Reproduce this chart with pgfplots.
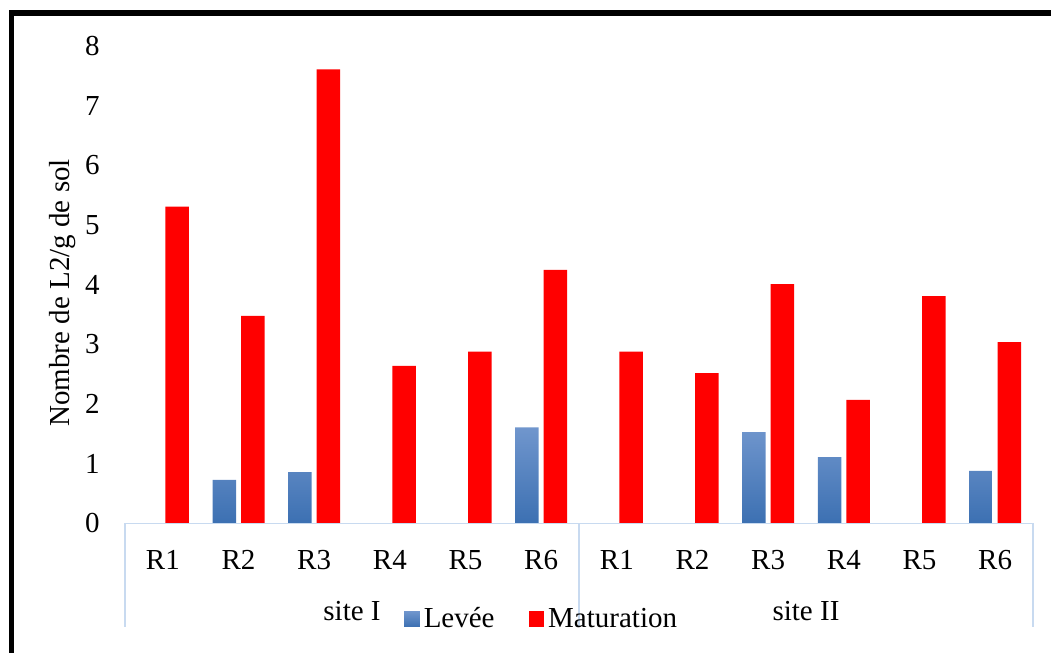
\documentclass[border=0pt]{standalone}
\usepackage{fontspec}
\setmainfont{Liberation Serif}
\usepackage{pgfplots}
\pgfplotsset{compat=1.18}
\definecolor{bluetop}{RGB}{112,150,205}
\definecolor{bluebot}{RGB}{60,112,178}
\definecolor{frameblue}{RGB}{200,218,240}
\definecolor{xred}{RGB}{255,0,0}
\begin{document}
\begin{tikzpicture}[font=\fontsize{14.5pt}{17pt}\selectfont]
\path[use as bounding box] (0,0) rectangle (525.5pt,326.5pt);
\fill[black] (4.5pt,318.6pt) rectangle (525.5pt,321.5pt);
\fill[black] (4.5pt,0pt) rectangle (7pt,321.5pt);
\begin{axis}[
  at={(62.5pt,64.75pt)}, anchor=south west,
  scale only axis, width=454pt, height=238.75pt,
  xmin=-0.5, xmax=11.5, ymin=0, ymax=8,
  ytick={0,1,...,8},
  xtick={0,...,11},
  xticklabels={R1,R2,R3,R4,R5,R6,R1,R2,R3,R4,R5,R6},
  axis line style={draw=none},
  xtick style={draw=none}, ytick style={draw=none},
  /pgf/number format/assume math mode=true,
  yticklabel style={anchor=east, inner sep=0pt, xshift=-12.5pt},
  xticklabel style={anchor=center, inner sep=0pt, yshift=-14pt},
  ylabel={Nombre de L2/g de sol},
  every axis y label/.style={at={(rel axis cs:0,0.483)}, rotate=90, anchor=center, yshift=31pt},
  ybar=2.5pt, bar width=11.75pt,
  clip=false,
  legend columns=2,
  legend style={at={(0.307,-0.2)}, anchor=west, draw=none, fill=none, inner sep=0pt,
    /tikz/every even column/.append style={column sep=15pt}},
  legend image code/.code={\path[#1] (0pt,-3.9pt) rectangle (7.8pt,3.9pt);},
]
\addplot[draw=none, top color=bluetop, bottom color=bluebot, shading=axis] coordinates {
 (0,0) (1,0.73) (2,0.86) (3,0) (4,0) (5,1.61)
 (6,0) (7,0) (8,1.53) (9,1.11) (10,0) (11,0.88)};
\addplot[draw=none, fill=xred] coordinates {
 (0,5.31) (1,3.48) (2,7.61) (3,2.64) (4,2.88) (5,4.25)
 (6,2.88) (7,2.52) (8,4.01) (9,2.07) (10,3.81) (11,3.04)};
\legend{Levée,Maturation}
\draw[frameblue, line width=0.8pt] (axis cs:-0.5,0) -- (axis cs:11.5,0);
\draw[frameblue, line width=0.8pt] (axis cs:-0.5,0) -- ([yshift=-52pt]axis cs:-0.5,0);
\draw[frameblue, line width=0.8pt] (axis cs:5.5,0) -- ([yshift=-52pt]axis cs:5.5,0);
\draw[frameblue, line width=0.8pt] (axis cs:11.5,0) -- ([yshift=-52pt]axis cs:11.5,0);
\node[anchor=center] at ([yshift=-44pt]axis cs:2.5,0) {site I};
\node[anchor=center] at ([yshift=-44pt]axis cs:8.5,0) {site II};
\end{axis}
\end{tikzpicture}
\end{document}
